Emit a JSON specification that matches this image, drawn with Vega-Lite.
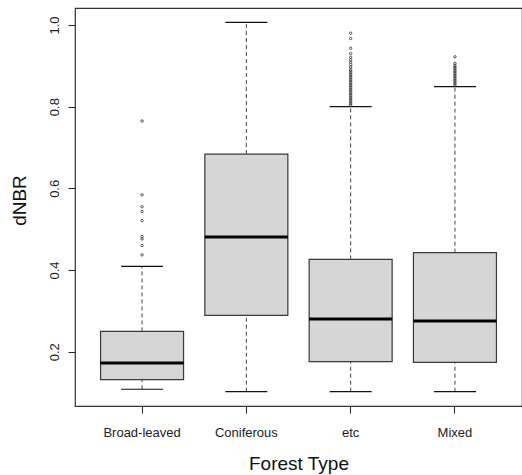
{
  "$schema": "https://vega.github.io/schema/vega-lite/v6.json",
  "autosize": "none",
  "width": 447,
  "height": 398,
  "padding": {"left": 75, "top": 8, "right": 0, "bottom": 69},
  "background": "white",
  "config": {
    "font": "Liberation Sans",
    "view": {"stroke": "#333333", "strokeWidth": 1.2},
    "axis": {"grid": false, "domain": false, "tickColor": "#222222", "tickSize": 7, "labelColor": "#222222", "titleColor": "#111111", "labelFont": "Liberation Sans", "titleFont": "Liberation Sans", "titleFontWeight": "normal"}
  },
  "datasets": {
    "boxes": [
      {"type": "Broad-leaved", "lower": 0.108, "q1": 0.1315, "median": 0.172, "q3": 0.2496, "upper": 0.409},
      {"type": "Coniferous", "lower": 0.102, "q1": 0.289, "median": 0.481, "q3": 0.684, "upper": 1.0066},
      {"type": "etc", "lower": 0.102, "q1": 0.1755, "median": 0.28, "q3": 0.426, "upper": 0.8},
      {"type": "Mixed", "lower": 0.102, "q1": 0.174, "median": 0.275, "q3": 0.4424, "upper": 0.849}
    ],
    "outliers": [
      {"type": "Broad-leaved", "value": 0.765},
      {"type": "Broad-leaved", "value": 0.584},
      {"type": "Broad-leaved", "value": 0.555},
      {"type": "Broad-leaved", "value": 0.543},
      {"type": "Broad-leaved", "value": 0.521},
      {"type": "Broad-leaved", "value": 0.482},
      {"type": "Broad-leaved", "value": 0.476},
      {"type": "Broad-leaved", "value": 0.46},
      {"type": "Broad-leaved", "value": 0.437},
      {"type": "etc", "value": 0.803},
      {"type": "etc", "value": 0.807},
      {"type": "etc", "value": 0.811},
      {"type": "etc", "value": 0.815},
      {"type": "etc", "value": 0.819},
      {"type": "etc", "value": 0.823},
      {"type": "etc", "value": 0.827},
      {"type": "etc", "value": 0.831},
      {"type": "etc", "value": 0.835},
      {"type": "etc", "value": 0.839},
      {"type": "etc", "value": 0.843},
      {"type": "etc", "value": 0.847},
      {"type": "etc", "value": 0.851},
      {"type": "etc", "value": 0.855},
      {"type": "etc", "value": 0.859},
      {"type": "etc", "value": 0.863},
      {"type": "etc", "value": 0.867},
      {"type": "etc", "value": 0.871},
      {"type": "etc", "value": 0.875},
      {"type": "etc", "value": 0.879},
      {"type": "etc", "value": 0.883},
      {"type": "etc", "value": 0.887},
      {"type": "etc", "value": 0.891},
      {"type": "etc", "value": 0.897},
      {"type": "etc", "value": 0.903},
      {"type": "etc", "value": 0.909},
      {"type": "etc", "value": 0.915},
      {"type": "etc", "value": 0.921},
      {"type": "etc", "value": 0.93},
      {"type": "etc", "value": 0.943},
      {"type": "etc", "value": 0.967},
      {"type": "etc", "value": 0.98},
      {"type": "Mixed", "value": 0.853},
      {"type": "Mixed", "value": 0.857},
      {"type": "Mixed", "value": 0.861},
      {"type": "Mixed", "value": 0.865},
      {"type": "Mixed", "value": 0.869},
      {"type": "Mixed", "value": 0.873},
      {"type": "Mixed", "value": 0.877},
      {"type": "Mixed", "value": 0.881},
      {"type": "Mixed", "value": 0.885},
      {"type": "Mixed", "value": 0.889},
      {"type": "Mixed", "value": 0.893},
      {"type": "Mixed", "value": 0.897},
      {"type": "Mixed", "value": 0.901},
      {"type": "Mixed", "value": 0.906},
      {"type": "Mixed", "value": 0.922}
    ]
  },
  "encoding": {
    "x": {
      "field": "type", "type": "nominal", "sort": null,
      "scale": {"type": "band", "paddingInner": 0, "paddingOuter": 0.143, "domain": ["Broad-leaved", "Coniferous", "etc", "Mixed"]},
      "axis": {"title": "Forest Type", "labelAngle": 0, "labelFontSize": 13, "labelBaseline": "alphabetic", "labelPadding": 23, "titleFontSize": 19, "titleBaseline": "alphabetic", "titleY": 63}
    }
  },
  "layer": [
    {
      "data": {"name": "boxes"},
      "mark": {"type": "rule", "strokeDash": [4, 3], "color": "#444444", "strokeWidth": 1},
      "encoding": {
        "y": {"field": "q3", "type": "quantitative", "scale": {"domain": [0.067, 1.0416], "nice": false, "zero": false},
          "axis": {"title": "dNBR", "values": [0.2, 0.4, 0.6, 0.8, 1.0], "format": ".1f", "labelAngle": 270, "labelAlign": "center", "labelBaseline": "alphabetic", "labelPadding": 10, "labelFontSize": 13, "titleFontSize": 19, "titleAngle": 270, "titleAlign": "center", "titleBaseline": "alphabetic", "titleX": -50, "titleY": 192}},
        "y2": {"field": "upper"}
      }
    },
    {
      "data": {"name": "boxes"},
      "mark": {"type": "rule", "strokeDash": [4, 3], "color": "#444444", "strokeWidth": 1},
      "encoding": {
        "y": {"field": "lower", "type": "quantitative"},
        "y2": {"field": "q1"}
      }
    },
    {
      "data": {"name": "boxes"},
      "mark": {"type": "bar", "size": 83, "fill": "#d6d6d6", "stroke": "#3a3a3a", "strokeWidth": 1.2},
      "encoding": {
        "y": {"field": "q1", "type": "quantitative"},
        "y2": {"field": "q3"}
      }
    },
    {
      "data": {"name": "boxes"},
      "mark": {"type": "tick", "size": 83, "thickness": 3, "color": "#000000", "opacity": 1},
      "encoding": {"y": {"field": "median", "type": "quantitative"}}
    },
    {
      "data": {"name": "boxes"},
      "mark": {"type": "tick", "size": 42, "thickness": 1.2, "color": "#111111", "opacity": 1},
      "encoding": {"y": {"field": "upper", "type": "quantitative"}}
    },
    {
      "data": {"name": "boxes"},
      "mark": {"type": "tick", "size": 42, "thickness": 1.2, "color": "#111111", "opacity": 1},
      "encoding": {"y": {"field": "lower", "type": "quantitative"}}
    },
    {
      "data": {"name": "outliers"},
      "mark": {"type": "point", "shape": "circle", "filled": false, "size": 6, "stroke": "#333333", "strokeWidth": 0.8, "opacity": 1},
      "encoding": {"y": {"field": "value", "type": "quantitative"}}
    }
  ]
}
